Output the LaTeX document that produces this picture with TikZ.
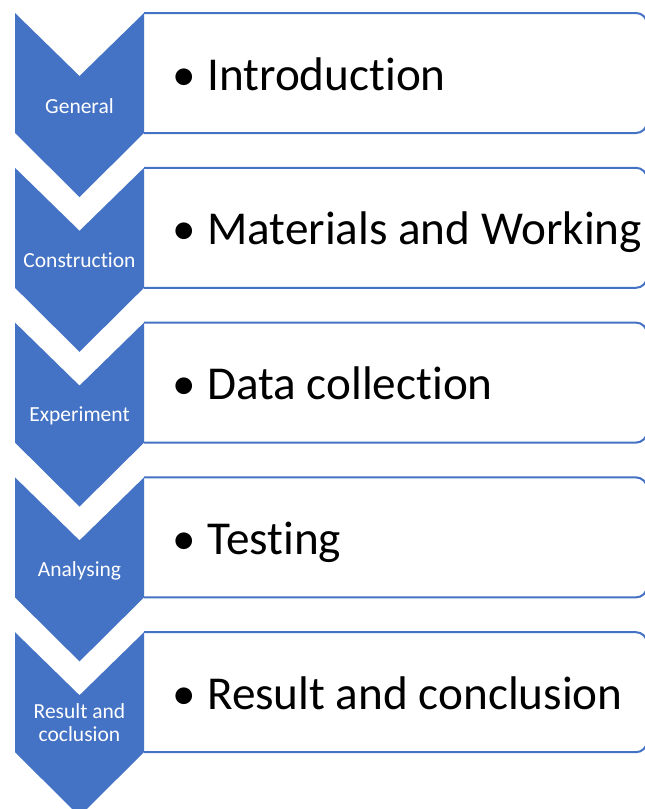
\documentclass[tikz,border=0pt]{standalone}
\usepackage{fontspec}
\setmainfont{Carlito}[Ligatures=NoCommon]
\usepackage{tikz}
\usetikzlibrary{positioning, calc}
\definecolor{stageblue}{RGB}{68,114,196}
\tikzstyle{chev}=[%
      fill=stageblue, draw=none
]
\tikzstyle{itembox}=[%
      draw=stageblue, line width=2pt, fill=white, rounded corners=11pt
]
\tikzstyle{stage}=[%
      text=white, inner sep=0pt, align=center, anchor=base,
      font=\fontsize{21.5}{23.4}\selectfont
]
\tikzstyle{item}=[%
      text=black, inner sep=0pt, anchor=base west,
      font=\fontsize{47.2}{56}\selectfont
]

\begin{document}
\begin{tikzpicture}[x=1pt, y=-1pt]
    \useasboundingbox (0,0) rectangle (645,809);
    \clip (0,0) rectangle (645,809);

    \foreach \lbl/\txt/\dy [count=\i from 0] in {%
        General/Introduction/100,
        Construction/Materials and Working/100,
        Experiment/Data collection/99,
        Analysing/Testing/99,
        {Result and\\coclusion}/Result and conclusion/109.5} {
      \pgfmathsetmacro{\y}{13 + 154.8*\i}
      % white box with the item, rounded on the right
      \filldraw[itembox] (144,\y) -- (647,\y) -- (647,\y+120) -- (144,\y+120);
      % chevron pointing down
      \fill[chev] (15,\y) -- (79.5,\y+63) -- (144,\y) -- (144,\y+120)
                  -- (79.5,\y+184) -- (15,\y+120) -- cycle;
      \node[stage] (stage\i) at (79.5,\y+\dy) {\lbl};
      \node[item]  (item\i)  at (172,\y+77) {\makebox[35pt][l]{•}\txt};
    }
\end{tikzpicture}
\end{document}
